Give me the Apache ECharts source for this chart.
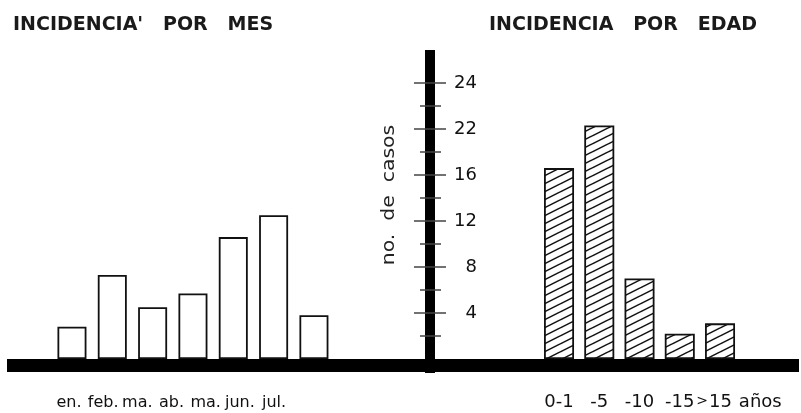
<!DOCTYPE html>
<html><head><meta charset="utf-8">
<script src="https://cdn.jsdelivr.net/npm/echarts@6/dist/echarts.min.js"></script>
<style>html,body{margin:0;padding:0;background:#fff}#c{width:801px;height:413px}</style>
</head><body><div id="c"></div>
<script>
const months = ['en.', 'feb.', 'ma.', 'ab.', 'ma.', 'jun.', 'jul.'];
const monthCases = [2.8, 7.3, 4.5, 5.7, 10.6, 12.5, 3.8];
const ageGroups = ['0-1', '-5', '-10', '-15', '>15', 'años'];
const ageCases = [16.6, 20.3, 7.0, 2.2, 3.1, null];
const tickValues = [4, 8, 12, 16, 20, 24];
const tickLabels = ['4', '8', '12', '16', '22', '24'];
const minorTickValues = [2, 6, 10, 14, 18, 22];
const titleMonth = "INCIDENCIA'   POR   MES";
const titleAge = 'INCIDENCIA   POR   EDAD';
const yAxisName = 'no.  de  casos';

const FONT = '"DejaVu Sans", sans-serif';
const PX_PER_UNIT = 11.5;
const ZERO_Y = 359;

function hatch() {
  const c = document.createElement('canvas');
  c.width = 16; c.height = 8;
  const g = c.getContext('2d');
  g.fillStyle = '#fff'; g.fillRect(0, 0, 16, 8);
  g.strokeStyle = '#111'; g.lineWidth = 1.5;
  for (let k = -1; k <= 1; k++) {
    g.beginPath(); g.moveTo(0, 8 + k * 8); g.lineTo(16, k * 8); g.stroke();
  }
  return c;
}

function ageLabel(v) {
  if (v.charAt(0) === '>') return '{s|>}{n|' + v.slice(1) + '}';
  return v;
}

const chart = echarts.init(document.getElementById('c'));
const centerMin = -(373 - ZERO_Y) / PX_PER_UNIT;
const centerMax = (ZERO_Y - 50) / PX_PER_UNIT;
const hiddenX = (gi) => ({gridIndex: gi, type: 'category', show: false, data: ['']});
const tickStyle = {color: '#444', width: 1.5};

chart.setOption({
  animation: false,
  backgroundColor: '#fff',
  grid: [
    {left: 51.8, width: 282.3, top: 60, bottom: 54},
    {left: 538.9, width: 241.5, top: 60, bottom: 54},
    {left: 7, right: 2, top: 60, bottom: 54},
    {left: 430, width: 1, top: 50, bottom: 40},
    {left: 51.9, width: 239.2, top: 60, bottom: 54}
  ],
  xAxis: [
    {gridIndex: 0, type: 'category', data: months, axisLine: {show: false}, axisTick: {show: false}, axisLabel: {show: false}},
    {gridIndex: 1, type: 'category', data: ageGroups, axisLine: {show: false}, axisTick: {show: false},
     axisLabel: {interval: 0, margin: 34, fontSize: 18, color: '#111', fontFamily: FONT, formatter: ageLabel,
       rich: {
         s: {fontSize: 14, color: '#111', fontFamily: FONT, verticalAlign: 'middle', lineHeight: 18, padding: [0, 1, 1, 0]},
         n: {fontSize: 18, color: '#111', fontFamily: FONT, verticalAlign: 'middle', lineHeight: 18, padding: [0, 12, 0, 0]}
       }}},
    {gridIndex: 2, type: 'value', min: 0, max: 1, position: 'bottom', offset: 6,
     axisLine: {show: true, onZero: false, lineStyle: {color: '#000', width: 13, cap: 'butt'}},
     axisTick: {show: false}, axisLabel: {show: false}, splitLine: {show: false}},
    hiddenX(3),
    {gridIndex: 4, type: 'category', data: months, axisLine: {show: false}, axisTick: {show: false},
     axisLabel: {interval: 0, margin: 36, fontSize: 16, color: '#111', fontFamily: FONT}}
  ],
  yAxis: [
    {gridIndex: 0, type: 'value', min: 0, max: 26, show: false},
    {gridIndex: 1, type: 'value', min: 0, max: 26, show: false},
    {gridIndex: 2, type: 'value', min: 0, max: 26, show: false},
    {gridIndex: 3, type: 'value', position: 'left', min: centerMin, max: centerMax,
     axisLine: {show: true, lineStyle: {color: '#000', width: 10, cap: 'butt'}}, splitLine: {show: false},
     axisTick: {show: true, length: 16, customValues: tickValues, lineStyle: tickStyle},
     axisLabel: {show: true, inside: true, customValues: tickValues, align: 'right', margin: 47,
       formatter: (v) => tickLabels[tickValues.indexOf(v)], fontSize: 18, color: '#111', fontFamily: FONT}},
    {gridIndex: 3, type: 'value', position: 'left', min: centerMin, max: centerMax,
     axisLine: {show: false}, splitLine: {show: false}, axisLabel: {show: false},
     axisTick: {show: true, inside: true, length: 16, customValues: tickValues, lineStyle: tickStyle}},
    {gridIndex: 3, type: 'value', position: 'left', min: centerMin, max: centerMax,
     axisLine: {show: false}, splitLine: {show: false}, axisLabel: {show: false},
     axisTick: {show: true, length: 10, customValues: minorTickValues, lineStyle: tickStyle}},
    {gridIndex: 3, type: 'value', position: 'left', min: centerMin, max: centerMax,
     axisLine: {show: false}, splitLine: {show: false}, axisLabel: {show: false},
     axisTick: {show: true, inside: true, length: 11, customValues: minorTickValues, lineStyle: tickStyle}},
    {gridIndex: 4, type: 'value', min: 0, max: 26, show: false}
  ],
  series: [
    {type: 'bar', xAxisIndex: 0, yAxisIndex: 0, data: monthCases, barWidth: 29,
     itemStyle: {color: '#fff', borderColor: '#111', borderWidth: 1.8}},
    {type: 'bar', xAxisIndex: 1, yAxisIndex: 1, data: ageCases, barWidth: 30,
     itemStyle: {color: {image: hatch(), repeat: 'repeat'}, borderColor: '#111', borderWidth: 1.8}}
  ],
  graphic: [
    {type: 'text', x: 13, y: 25.5, style: {text: titleMonth, font: 'bold 19px ' + FONT, fill: '#1a1a1a', align: 'left', verticalAlign: 'middle'}},
    {type: 'text', x: 489, y: 25.5, style: {text: titleAge, font: 'bold 19px ' + FONT, fill: '#1a1a1a', align: 'left', verticalAlign: 'middle'}},
    {type: 'text', x: 390, y: 195, rotation: Math.PI / 2, scaleX: 1.2,
     style: {text: yAxisName, font: '17px ' + FONT, fill: '#222', align: 'center', verticalAlign: 'middle'}}
  ]
});
</script>
</body></html>
